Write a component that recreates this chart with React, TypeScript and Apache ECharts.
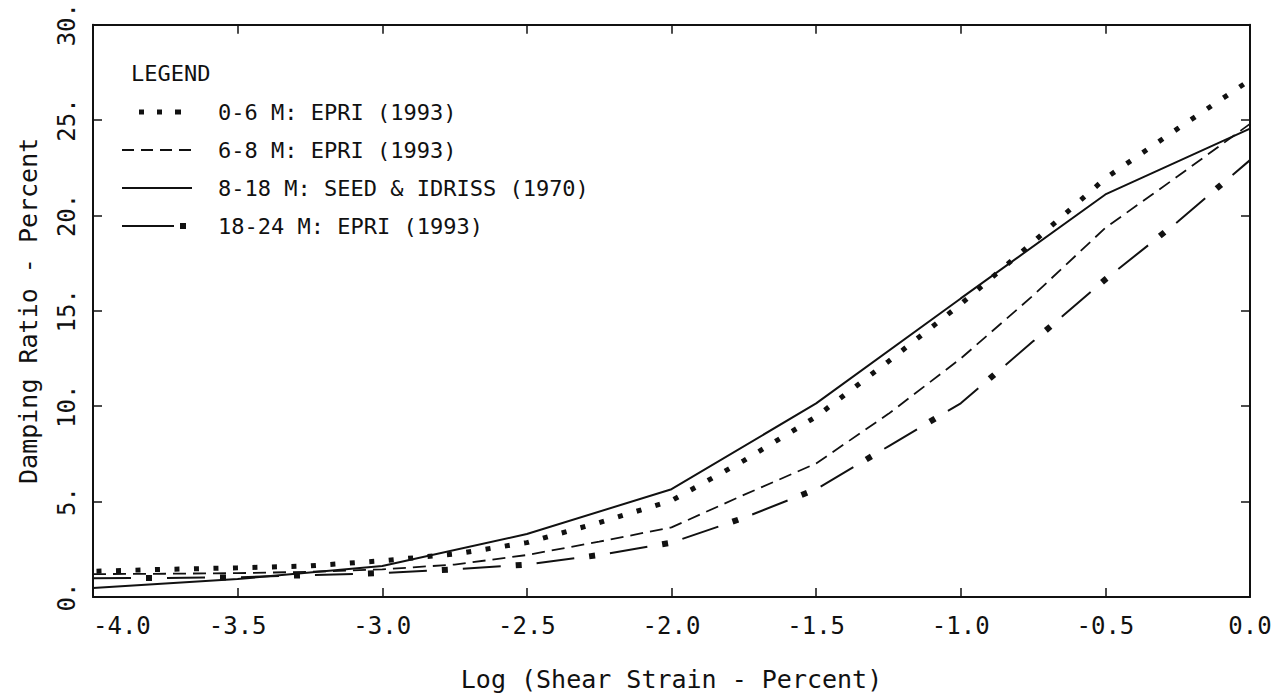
import React, { useEffect, useRef } from 'react';
import * as echarts from 'echarts';

const INK = '#111111';
const FONT = '"DejaVu Sans Mono", "Liberation Mono", monospace';

// Tick labels
const xTickLabels = ['-4.0', '-3.5', '-3.0', '-2.5', '-2.0', '-1.5', '-1.0', '-0.5', '0.0'];
const yTickLabels = ['0.', '5.', '10.', '15.', '20.', '25.', '30.'];

// Series names
const seriesNames = [
  '0-6 M: EPRI (1993)',
  '6-8 M: EPRI (1993)',
  '8-18 M: SEED & IDRISS (1970)',
  '18-24 M: EPRI (1993)',
];

// EPRI (1993) curves, log10 shear strain (%) -> damping ratio (%)
const epriLogStrain = [-4, -3.75, -3.5, -3.25, -3, -2.75, -2.5, -2.25, -2, -1.75, -1.5, -1.25, -1, -0.75, -0.5, -0.25, 0];
const epri0to6 = [1.35, 1.45, 1.53, 1.63, 1.9, 2.25, 2.85, 3.9, 5.05, 7.15, 9.45, 12.35, 15.35, 18.6, 21.95, 24.55, 27.1];
const epri6to8 = [1.2, 1.22, 1.25, 1.32, 1.45, 1.7, 2.2, 2.9, 3.65, 5.35, 7.0, 9.6, 12.5, 15.8, 19.35, 22.05, 24.8];
const epri18to24 = [0.98, 1.0, 1.03, 1.15, 1.25, 1.45, 1.7, 2.2, 2.85, 4.15, 5.65, 7.9, 10.15, 13.4, 16.65, 19.67, 22.9];

// Seed & Idriss (1970)
const seedLogStrain = [-4, -3.5, -3, -2.5, -2, -1.5, -1, -0.5, 0];
const seedIdriss8to18 = [0.47, 0.94, 1.62, 3.3, 5.65, 10.15, 15.65, 21.1, 24.55];

const pair = (xs: number[], ys: number[]) => xs.map((x, i) => [x, ys[i]]);

const BOX = 'M0 0 M70 10 ';
const legendIcons = [
  'path://' + BOX + 'M17 2.5h5v5h-5z M35 2.5h5v5h-5z M53 2.5h6v5h-6z',
  'path://' + BOX + 'M0 4h12v2h-12z M19 4h12v2h-12z M38 4h12v2h-12z M57 4h12v2h-12z',
  'path://' + BOX + 'M0 4h70v2h-70z',
  'path://' + BOX + 'M0 4h52v2h-52z M58 2h6v6h-6z',
];

export default function App() {
  const ref = useRef<HTMLDivElement>(null);

  useEffect(() => {
    if (!ref.current) return;
    const chart = echarts.init(ref.current, null, { renderer: 'svg' });

    const axisLine = { show: true, onZero: false, lineStyle: { color: INK, width: 2 } };
    const axisTick = { show: true, inside: true, length: 9, lineStyle: { color: INK, width: 1.5 } };
    const labelBase = { color: INK, fontFamily: FONT, fontSize: 24 };

    const option: any = {
      animation: false,
      backgroundColor: '#ffffff',
      textStyle: { fontFamily: FONT, color: INK },
      title: {
        text: 'LEGEND',
        left: 131,
        top: 62,
        padding: 0,
        textStyle: { fontSize: 22, fontWeight: 'normal', color: INK, fontFamily: FONT },
      },
      legend: {
        orient: 'vertical',
        left: 122,
        top: 101,
        padding: 0,
        itemWidth: 70,
        itemHeight: 10,
        itemGap: 16,
        selectedMode: false,
        itemStyle: { borderWidth: 0, color: INK },
        textStyle: { fontSize: 22, color: INK, fontFamily: FONT, padding: [0, 0, 0, 21] },
        data: seriesNames.map((name, i) => ({ name, icon: legendIcons[i] })),
      },
      grid: { left: 93, right: 38, top: 24, bottom: 100, containLabel: false },
      xAxis: [
        {
          type: 'value',
          position: 'bottom',
          min: -4,
          max: 0,
          interval: 0.5,
          name: 'Log (Shear Strain - Percent)',
          nameLocation: 'middle',
          nameGap: 70,
          nameTextStyle: { fontSize: 25, color: INK, fontFamily: FONT },
          axisLine,
          axisTick,
          splitLine: { show: false },
          axisLabel: {
            ...labelBase,
            margin: 17,
            alignMinLabel: 'left',
            formatter: (v: number) => xTickLabels[Math.round((v + 4) / 0.5)] ?? '',
          },
        },
        {
          type: 'value',
          position: 'top',
          min: -4,
          max: 0,
          interval: 0.5,
          axisLine,
          axisTick,
          splitLine: { show: false },
          axisLabel: { show: false },
        },
      ],
      yAxis: [
        {
          type: 'value',
          position: 'left',
          min: 0,
          max: 30,
          interval: 5,
          name: 'Damping Ratio - Percent',
          nameLocation: 'middle',
          nameGap: 52,
          nameRotate: 90,
          nameTextStyle: { fontSize: 25, color: INK, fontFamily: FONT },
          axisLine,
          axisTick,
          splitLine: { show: false },
          axisLabel: {
            ...labelBase,
            rotate: 90,
            margin: 14,
            formatter: (v: number) => yTickLabels[Math.round(v / 5)] ?? '',
          },
        },
        {
          type: 'value',
          position: 'right',
          min: 0,
          max: 30,
          interval: 5,
          axisLine,
          axisTick,
          splitLine: { show: false },
          axisLabel: { show: false },
        },
      ],
      series: [
        {
          name: seriesNames[0],
          type: 'line',
          symbol: 'none',
          data: pair(epriLogStrain, epri0to6),
          itemStyle: { color: INK },
          lineStyle: { color: INK, width: 5, type: [5, 14.5], dashOffset: 16, cap: 'butt' },
        },
        {
          name: seriesNames[1],
          type: 'line',
          symbol: 'none',
          data: pair(epriLogStrain, epri6to8),
          itemStyle: { color: INK },
          lineStyle: { color: INK, width: 1.8, type: [13, 7] },
        },
        {
          name: seriesNames[2],
          type: 'line',
          symbol: 'none',
          data: pair(seedLogStrain, seedIdriss8to18),
          itemStyle: { color: INK },
          lineStyle: { color: INK, width: 2, type: 'solid' },
        },
        {
          name: seriesNames[3],
          type: 'line',
          symbol: 'none',
          data: pair(epriLogStrain, epri18to24),
          itemStyle: { color: INK },
          lineStyle: { color: INK, width: 2, type: [38, 36], cap: 'butt' },
        },
        {
          name: seriesNames[3],
          type: 'line',
          symbol: 'none',
          data: pair(epriLogStrain, epri18to24),
          itemStyle: { color: INK },
          lineStyle: { color: INK, width: 6, type: [6, 68], dashOffset: 21, cap: 'butt' },
        },
      ],
    };

    chart.setOption(option);
    return () => chart.dispose();
  }, []);

  return (
    <div
      ref={ref}
      style={{ position: 'fixed', left: 0, top: 0, width: 1288, height: 697, background: '#fff' }}
    />
  );
}
